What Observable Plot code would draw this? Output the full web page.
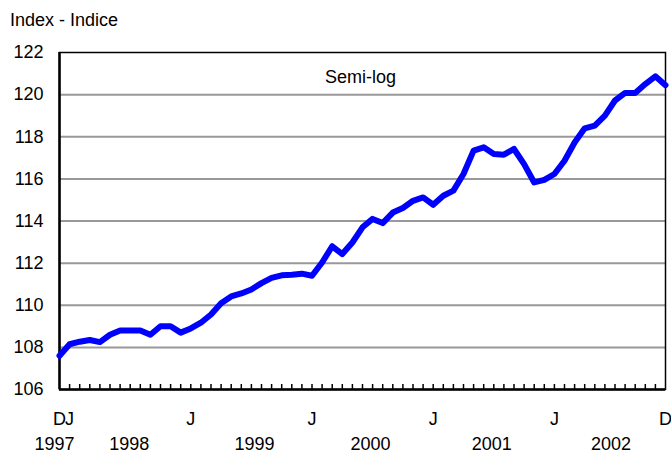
<!DOCTYPE html>
<html>
<head>
<meta charset="utf-8">
<script src="https://cdn.jsdelivr.net/npm/d3@7"></script>
<script src="https://cdn.jsdelivr.net/npm/@observablehq/plot@0.6"></script>
<style>
  body { margin: 0; background: #fff; font-family: "Liberation Sans", Arial, sans-serif; }
  #title { height: 20px; padding: 10px 0 0 10px; font-size: 18px; line-height: 20px; color: #000; }
</style>
</head>
<body>
<div id="title">Index - Indice</div>
<div id="chart"></div>
<script>
// Monthly index, Dec 1997 (index 0) to Dec 2002 (index 60)
const values = [
  107.6, 108.15, 108.27, 108.35, 108.25, 108.6, 108.8, 108.8, 108.8, 108.6, 109.0, 109.0,
  108.7, 108.9, 109.17, 109.56, 110.1, 110.42, 110.56, 110.75, 111.05, 111.3, 111.42, 111.45,
  111.5, 111.4, 112.03, 112.8, 112.43, 112.98, 113.7, 114.1, 113.9, 114.4, 114.62, 114.96,
  115.12, 114.77, 115.2, 115.44, 116.23, 117.34, 117.5, 117.18, 117.15, 117.42, 116.7, 115.83,
  115.95, 116.23, 116.86, 117.73, 118.4, 118.53, 119.0, 119.72, 120.08, 120.08, 120.5, 120.87,
  120.45
];
const months = values.map((d, i) => i);
const yTicks = [106, 108, 110, 112, 114, 116, 118, 120, 122];
const gridValues = [108, 110, 112, 114, 116, 118, 120];
const monthLabels = ["D", "J", "J", "J", "J", "J", "D"];
const monthLabelPos = [0, 1, 13, 25, 37, 49, 60];
const yearLabels = ["1997", "1998", "1999", "2000", "2001", "2002"];
const yearLabelPos = [-0.5, 6.9, 19.3, 30.8, 42.8, 54.6];
const tickMonths = months.slice(1, 60);
const note = "Semi-log";

const chart = Plot.plot({
  width: 671,
  height: 424,
  marginLeft: 59,
  marginRight: 6,
  marginTop: 22,
  marginBottom: 65,
  style: { fontFamily: "Liberation Sans, Arial, sans-serif", fontSize: "18px", color: "#000", background: "#fff", overflow: "visible" },
  x: { domain: [0, 60], axis: null },
  y: { domain: [106, 122], axis: null },
  marks: [
    Plot.ruleY(gridValues, { stroke: "#999", strokeWidth: 2 }),
    Plot.frame({ stroke: "#000", strokeWidth: 1.5 }),
    Plot.tickX(tickMonths, { x: d => d, stroke: "#000", strokeWidth: 1.5, insetTop: 332 }),
    Plot.ruleX([0], { stroke: "#000", strokeWidth: 2.5 }),
    Plot.ruleY([106], { stroke: "#000", strokeWidth: 2.5 }),
    Plot.axisY({ ticks: yTicks, tickSize: 0, tickPadding: 16, fontSize: 18, fill: "#000" }),
    Plot.line(values, { x: (d, i) => months[i], y: d => d, stroke: "#0000ff", strokeWidth: 6, strokeLinejoin: "round", strokeLinecap: "round" }),
    Plot.text(monthLabels, { x: (d, i) => monthLabelPos[i], text: d => d, frameAnchor: "bottom", dy: 35, lineAnchor: "bottom", fontSize: 18, fill: "#000" }),
    Plot.text(yearLabels, { x: (d, i) => yearLabelPos[i], text: d => d, frameAnchor: "bottom", dy: 60, lineAnchor: "bottom", fontSize: 18, fill: "#000" }),
    Plot.text([note], { text: d => d, frameAnchor: "top", dx: -2, dy: 30, lineAnchor: "bottom", fontSize: 18, fill: "#000" })
  ]
});
document.getElementById("chart").appendChild(chart);
</script>
</body>
</html>
